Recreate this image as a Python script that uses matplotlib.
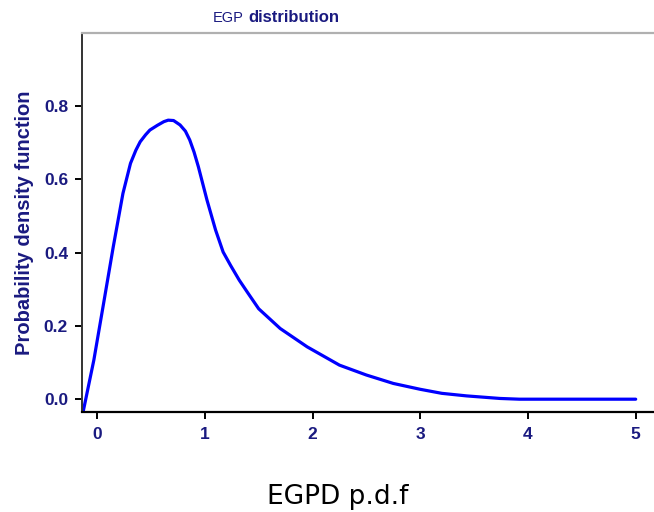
import numpy as np
import matplotlib.pyplot as plt

# values
x_vals = [-0.13, -0.03, 0.06, 0.15, 0.24, 0.31, 0.36, 0.40, 0.45, 0.49, 0.56,
          0.62, 0.66, 0.71, 0.77, 0.82, 0.86, 0.90, 0.94, 1.02, 1.10, 1.17,
          1.24, 1.32, 1.40, 1.50, 1.70, 1.95, 2.25, 2.50, 2.75, 3.00, 3.20,
          3.43, 3.74, 3.92, 4.50, 5.00]
pdf_vals = [-0.035, 0.107, 0.261, 0.416, 0.562, 0.644, 0.680, 0.703, 0.722,
            0.735, 0.748, 0.758, 0.762, 0.761, 0.749, 0.732, 0.708, 0.675,
            0.635, 0.544, 0.462, 0.402, 0.365, 0.325, 0.290, 0.247, 0.193,
            0.143, 0.093, 0.066, 0.043, 0.027, 0.016, 0.009, 0.002, 0.0, 0.0,
            0.0]
xticks = [0, 1, 2, 3, 4, 5]
yticks = [0.0, 0.2, 0.4, 0.6, 0.8]

navy = '#1a1a80'
plt.rcParams['font.family'] = ['Liberation Sans', 'DejaVu Sans']

fig = plt.figure(figsize=(6.54, 5.12), dpi=100)
ax = fig.add_axes([0.1254, 0.1953, 0.8746, 0.7402])

ax.plot(x_vals, pdf_vals, color='#0000ff', lw=2.3, solid_capstyle='round',
        solid_joinstyle='round')

ax.set_xlim(-0.14, 5.17)
ax.set_ylim(-0.035, 1.0)
ax.set_xticks(xticks)
ax.set_xticklabels([str(t) for t in xticks])
ax.set_yticks(yticks)
ax.set_yticklabels(['%.1f' % t for t in yticks])

ax.spines['right'].set_visible(False)
ax.spines['top'].set_color('#b0b0b0')
ax.spines['top'].set_linewidth(1.6)
ax.spines['left'].set_color('#333333')
ax.spines['left'].set_linewidth(1.4)
ax.spines['bottom'].set_color('black')
ax.spines['bottom'].set_linewidth(1.6)

ax.tick_params(axis='both', direction='out', length=5, width=1.4, color='black')
ax.tick_params(axis='x', pad=6)
ax.tick_params(axis='y', pad=5)
for lab in ax.get_xticklabels() + ax.get_yticklabels():
    lab.set_color(navy)
    lab.set_fontweight('bold')
    lab.set_fontsize(12.5)

ax.set_ylabel('Probability density function', color=navy, fontweight='bold',
              fontsize=14.5, labelpad=7)

fig.text(244 / 654, 1 - 18 / 512, 'EGP', color=navy, fontsize=10.5,
         ha='right', va='center')
fig.text(248 / 654, 1 - 18 / 512, 'distribution', color=navy, fontsize=12,
         fontweight='bold', ha='left', va='center')

fig.text(338 / 654, 1 - 497 / 512, 'EGPD p.d.f', color='black', fontsize=19,
         family='DejaVu Sans', ha='center', va='center')

fig.savefig('out.png', dpi=100)
